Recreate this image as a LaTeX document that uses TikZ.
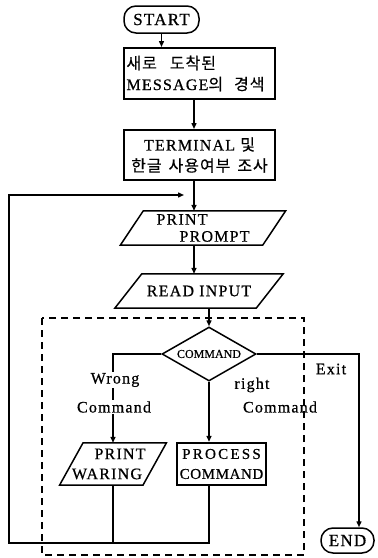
\documentclass[tikz,border=0pt]{standalone}
\usepackage{fontspec}
\setmainfont{Liberation Serif}[LetterSpace=7.5, FakeBold=0.6]
\newfontfamily\kr{Noto Sans CJK KR}[FakeBold=0.4, LetterSpace=6]
\usetikzlibrary{shapes.geometric,arrows.meta}

\begin{document}
\begin{tikzpicture}[x=1pt,y=-1pt,
  font=\fontsize{16}{21}\selectfont,
  conn/.style={line width=1.4pt},
  arr/.style={conn, -{Triangle[length=6pt,width=5pt]}},
  box/.style={draw, line width=2pt, inner sep=0pt},
  % input/output box: the node is the mid rectangle, the slanted outline is added round it
  io/.style={inner sep=0pt, append after command={
      \pgfextra{\draw[line width=1.5pt, line join=miter]
        ([xshift=#1/2]\tikzlastnode.north west) -- ([xshift=#1/2]\tikzlastnode.north east)
        -- ([xshift=-#1/2]\tikzlastnode.south east) -- ([xshift=-#1/2]\tikzlastnode.south west)
        -- cycle;}}},
  term/.style={draw, line width=1.5pt, rounded corners=12pt, inner sep=0pt},
  txt/.style={inner sep=0pt, align=center},
  lbl/.style={inner sep=1pt, fill=white},
]
% page
\fill[white] (0,0) rectangle (378,558);
\useasboundingbox (0,0) rectangle (378,558);

% main column
\node[term, minimum width=75pt, minimum height=27pt, font=\fontsize{17}{20}\selectfont]
  (S) at (161.5,19.5) {START};
\node[box, minimum width=151pt, minimum height=51pt, text width=146pt, align=left]
  (B1) at (199.5,73.5) {{\kr 새로\hspace{13pt}도착된}\\MESSAGE{\kr 의\hspace{11pt}경색}};
\node[box, minimum width=151pt, minimum height=50pt, align=center]
  (B2) at (199.5,155) {TERMINAL {\kr 및}\\{\kr 한글\hspace{7pt}사용여부\hspace{7pt}조사}};
\node[io=23, minimum width=142pt, minimum height=34pt, align=left,
  font=\fontsize{16}{17}\selectfont] (PP) at (203,228) {PRINT\\\hspace*{23pt}PROMPT};
\node[io=27, minimum width=141pt, minimum height=34pt] (RI) at (199,291) {READ INPUT};

% decision
\node[draw, line width=1.5pt, shape=diamond, aspect=1.74, minimum width=94pt,
  minimum height=54pt, inner sep=1pt, font=\fontsize{12}{13}\selectfont]
  (D) at (209,354) {\addfontfeature{LetterSpace=0}COMMAND};

% branches
\node[io=23.5, minimum width=83pt, minimum height=42pt, align=center,
  font=\fontsize{16}{20}\selectfont] (PW) at (113,464) {\hspace*{14pt}PRINT\\WARING\hspace*{12pt}};
\node[box, line width=2.4pt, minimum width=89pt, minimum height=42pt, align=center,
  font=\fontsize{15}{20}\selectfont] (PC) at (221.5,464)
  {{\addfontfeature{LetterSpace=15}PROCESS}\\{\addfontfeature{LetterSpace=4}COMMAND}};
\node[term, minimum width=53pt, minimum height=25pt, font=\fontsize{17}{20}\selectfont]
  (E) at (347.5,540.5) {END};

% routing points
\coordinate (spine) at (194,0);
\coordinate (exitc) at (359,354);
\coordinate (loopSW) at (9,543);
\coordinate (loopNW) at (9,195);
\coordinate (loopTip) at (184,195);

% connectors
\draw[arr] (S.south) -- (S.south |- B1.north);
\draw[arr] (B1.south -| spine) -- (B2.north -| spine);
\draw[arr] (B2.south -| spine) -- (PP.north -| spine);
\draw[arr] (PP.south -| spine) -- (RI.north -| spine);
\draw[arr] (RI.south -| D.north) -- (D.north);
\draw[arr] (D.west) -| (PW.north);
\draw[arr] (D.south) -- (D.south |- PC.north);
\draw[arr] (D.east) -- (D.east -| exitc) -- (exitc |- E.north);
\draw[conn] (PW.south) -- (PW.south |- loopSW);
\draw[arr] (PC.south -| D.south) |- (loopSW) -- (loopNW) -- (loopTip);

% dashed frame round the command handling
\draw[line width=1.4pt, dash pattern=on 7pt off 5pt] (42,318) rectangle (304,555);

% branch labels
\node[lbl] (wr1) at (115,380) {Wrong};
\node[lbl] (wr2) at (114,407) {Command};
\node[txt] (rt1) at (252,385) {right};
\node[txt] (rt2) at (280,407) {Command};
\node[txt] (ex) at (331,369) {Exit};
\end{tikzpicture}
\end{document}
